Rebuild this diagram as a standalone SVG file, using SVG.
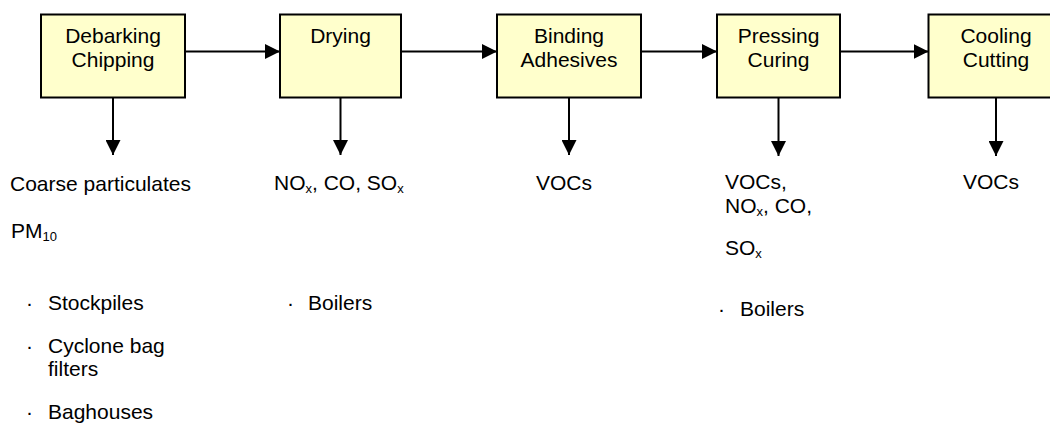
<svg xmlns="http://www.w3.org/2000/svg" width="1050" height="423" viewBox="0 0 1050 423">
  <style>
    .box { fill: #FFFFCC; stroke: #000; stroke-width: 2; }
    .lbl { font-family: "Liberation Sans", Arial, sans-serif; font-size: 21px; fill: #000; }
    .mid { text-anchor: middle; }
    .sub { font-size: 13px; }
    .flow { stroke: #000; stroke-width: 2; fill: none; }
  </style>
  <defs>
    <marker id="head" viewBox="0 0 15 15" refX="15" refY="7.5" markerWidth="15" markerHeight="15" markerUnits="userSpaceOnUse" orient="auto">
      <path d="M0,0 L15,7.5 L0,15 Z" fill="#000"/>
    </marker>
  </defs>

  <rect width="1050" height="423" fill="#fff"/>

  <!-- process steps -->
  <g id="debarking">
    <rect class="box" x="41" y="14.5" width="144" height="83"/>
    <text class="lbl mid" x="113" y="43">Debarking</text>
    <text class="lbl mid" x="113" y="67">Chipping</text>
  </g>
  <g id="drying">
    <rect class="box" x="280" y="14.5" width="121" height="83"/>
    <text class="lbl mid" x="340.5" y="43">Drying</text>
  </g>
  <g id="binding">
    <rect class="box" x="497" y="14.5" width="144" height="83"/>
    <text class="lbl mid" x="569" y="43">Binding</text>
    <text class="lbl mid" x="569" y="67">Adhesives</text>
  </g>
  <g id="pressing">
    <rect class="box" x="717" y="14.5" width="123" height="83"/>
    <text class="lbl mid" x="778.5" y="43">Pressing</text>
    <text class="lbl mid" x="778.5" y="67">Curing</text>
  </g>
  <g id="cooling">
    <rect class="box" x="928.5" y="14.5" width="135" height="83"/>
    <text class="lbl mid" x="996" y="43">Cooling</text>
    <text class="lbl mid" x="996" y="67">Cutting</text>
  </g>

  <!-- connectors -->
  <g id="connectors">
    <line class="flow" x1="185" y1="51.5" x2="280" y2="51.5" marker-end="url(#head)"/>
    <line class="flow" x1="401" y1="51.5" x2="497" y2="51.5" marker-end="url(#head)"/>
    <line class="flow" x1="641" y1="51.5" x2="717" y2="51.5" marker-end="url(#head)"/>
    <line class="flow" x1="840" y1="51.5" x2="928.5" y2="51.5" marker-end="url(#head)"/>
    <line class="flow" x1="113" y1="98" x2="113" y2="155" marker-end="url(#head)"/>
    <line class="flow" x1="340.5" y1="98" x2="340.5" y2="155" marker-end="url(#head)"/>
    <line class="flow" x1="569" y1="98" x2="569" y2="155" marker-end="url(#head)"/>
    <line class="flow" x1="778.5" y1="98" x2="778.5" y2="156" marker-end="url(#head)"/>
    <line class="flow" x1="996" y1="98" x2="996" y2="156" marker-end="url(#head)"/>
  </g>

  <!-- emissions and sources -->
  <g id="debarking-emissions">
    <text class="lbl" x="10" y="191">Coarse particulates</text>
    <text class="lbl" x="11" y="238">PM<tspan class="sub" dy="3">10</tspan></text>
    <text class="lbl" x="26" y="310">·</text>
    <text class="lbl" x="48" y="310">Stockpiles</text>
    <text class="lbl" x="26" y="353">·</text>
    <text class="lbl" x="48" y="353">Cyclone bag</text>
    <text class="lbl" x="48" y="376">filters</text>
    <text class="lbl" x="26" y="419">·</text>
    <text class="lbl" x="48" y="419">Baghouses</text>
  </g>
  <g id="drying-emissions">
    <text class="lbl" x="274" y="190">NO<tspan class="sub" dy="3">x</tspan><tspan dy="-3">, CO, SO</tspan><tspan class="sub" dy="3">x</tspan></text>
    <text class="lbl" x="287" y="310">·</text>
    <text class="lbl" x="308" y="310">Boilers</text>
  </g>
  <g id="binding-emissions">
    <text class="lbl" x="536" y="190">VOCs</text>
  </g>
  <g id="pressing-emissions">
    <text class="lbl" x="725" y="189">VOCs,</text>
    <text class="lbl" x="725" y="213">NO<tspan class="sub" dy="3">x</tspan><tspan dy="-3">, CO,</tspan></text>
    <text class="lbl" x="725" y="255">SO<tspan class="sub" dy="3">x</tspan></text>
    <text class="lbl" x="718" y="316">·</text>
    <text class="lbl" x="740" y="316">Boilers</text>
  </g>
  <g id="cooling-emissions">
    <text class="lbl" x="963" y="189">VOCs</text>
  </g>
</svg>
